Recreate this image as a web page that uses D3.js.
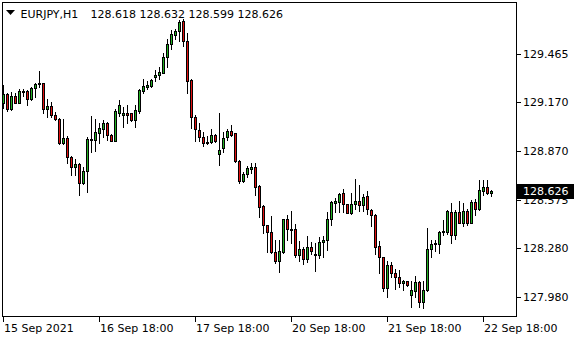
<!DOCTYPE html>
<html><head><meta charset="utf-8">
<script src="https://cdn.jsdelivr.net/npm/d3@7"></script>
<style>html,body{margin:0;padding:0;background:#fff;}svg{display:block;}</style>
</head><body>
<script>
const symbolTitle = "EURJPY,H1";
const open = [
129.167,129.219,129.127,129.208,129.167,129.231,129.237,129.188,129.255,129.280,
129.285,129.131,129.147,129.094,129.066,128.923,128.952,128.834,128.773,128.791,
128.675,128.748,128.938,128.938,128.984,129.008,129.045,128.968,128.935,129.106,
129.090,129.103,129.103,129.060,129.118,129.241,129.265,129.269,129.323,129.335,
129.351,129.445,129.526,129.583,129.604,129.669,129.543,129.306,129.082,129.000,
128.956,128.919,128.925,128.968,128.852,128.892,128.956,128.996,128.980,128.811,
128.691,128.730,128.764,128.773,128.658,128.536,128.420,128.380,128.255,128.197,
128.257,128.455,128.395,128.394,128.238,128.272,128.214,128.284,128.243,128.238,
128.314,128.326,128.455,128.552,128.560,128.614,128.548,128.495,128.546,128.567,
128.544,128.597,128.511,128.479,128.291,128.222,128.038,128.178,128.128,128.104,
128.067,128.076,127.990,128.018,128.071,127.951,128.024,128.271,128.304,128.304,
128.377,128.380,128.499,128.357,128.499,128.434,128.507,128.434,128.560,128.519,
128.629,128.650,128.618];
const high = [
129.276,129.225,129.231,129.225,129.249,129.253,129.245,129.261,129.286,129.361,
129.288,129.188,129.172,129.110,129.074,129.070,128.964,128.842,128.825,128.797,
128.776,128.956,129.086,129.066,129.041,129.062,129.049,128.976,129.127,129.184,
129.143,129.151,129.106,129.155,129.249,129.310,129.300,129.314,129.367,129.387,
129.473,129.559,129.612,129.620,129.673,129.677,129.592,129.312,129.092,129.043,
128.988,128.964,129.005,128.976,129.106,128.990,129.005,129.031,128.982,128.817,
128.744,128.780,128.797,128.797,128.664,128.542,128.423,128.473,128.328,128.328,
128.457,128.481,128.505,128.426,128.324,128.287,128.351,128.318,128.308,128.348,
128.354,128.499,128.568,128.585,128.617,128.642,128.551,128.615,128.701,128.662,
128.607,128.625,128.518,128.487,128.324,128.226,128.202,128.194,128.151,128.145,
128.081,128.078,128.075,128.106,128.075,128.079,128.401,128.326,128.328,128.383,
128.450,128.511,128.556,128.511,128.568,128.556,128.515,128.573,128.581,128.695,
128.695,128.695,128.632];
const low = [
129.135,129.118,129.123,129.164,129.165,129.208,129.155,129.184,129.202,129.261,
129.106,129.082,129.082,129.062,128.915,128.915,128.797,128.724,128.724,128.601,
128.670,128.622,128.866,128.870,128.919,128.960,128.939,128.933,128.931,129.086,
129.021,129.041,129.057,129.017,129.103,129.225,129.251,129.261,129.302,129.314,
129.347,129.387,129.497,129.555,129.543,129.514,129.225,129.010,128.933,128.935,
128.905,128.917,128.919,128.929,128.787,128.868,128.939,128.964,128.808,128.675,
128.683,128.715,128.740,128.606,128.467,128.369,128.258,128.247,128.189,128.130,
128.247,128.328,128.308,128.226,128.200,128.181,128.191,128.243,128.139,128.221,
128.222,128.265,128.423,128.502,128.502,128.499,128.493,128.487,128.518,128.505,
128.505,128.485,128.412,128.243,128.128,128.016,127.982,128.100,128.027,128.039,
128.023,128.050,127.920,127.982,127.920,127.914,128.019,128.222,128.261,128.249,
128.359,128.365,128.308,128.336,128.430,128.414,128.418,128.432,128.479,128.511,
128.601,128.609,128.599];
const close = [
129.219,129.127,129.208,129.167,129.237,129.241,129.188,129.255,129.280,129.285,
129.131,129.147,129.094,129.066,128.923,128.952,128.834,128.773,128.791,128.675,
128.752,128.944,128.945,128.990,129.013,129.045,128.968,128.935,129.118,129.155,
129.103,129.090,129.060,129.123,129.245,129.269,129.274,129.306,129.335,129.355,
129.445,129.526,129.587,129.604,129.661,129.543,129.302,129.078,129.005,128.956,
128.919,128.925,128.968,128.935,128.878,128.950,128.993,128.972,128.809,128.687,
128.730,128.768,128.773,128.654,128.532,128.422,128.380,128.255,128.197,128.259,
128.455,128.394,128.387,128.238,128.272,128.214,128.284,128.263,128.235,128.314,
128.328,128.455,128.560,128.568,128.609,128.546,128.495,128.546,128.567,128.544,
128.591,128.516,128.479,128.287,128.222,128.038,128.178,128.128,128.104,128.067,
128.076,128.055,128.023,128.071,127.951,128.023,128.272,128.304,128.312,128.377,
128.385,128.507,128.357,128.499,128.434,128.504,128.434,128.560,128.519,128.634,
128.650,128.617,128.626];
const priceTicks = [129.465, 129.170, 128.870, 128.575, 128.280, 127.980];
const priceTickLabels = ["129.465","129.170","128.870","128.575","128.280","127.980"];
const timeTickIndex = [0, 24, 48, 72, 96, 120];
const timeTickLabels = ["15 Sep 2021","16 Sep 18:00","17 Sep 18:00","20 Sep 18:00","21 Sep 18:00","22 Sep 18:00"];

const W = 580, H = 340;
const FONT = "DejaVu Sans, sans-serif";
const GREEN = "#22b022", RED = "#e01010";
const n = close.length;

const svg = d3.select("body").append("svg").attr("width", W).attr("height", H)
  .attr("shape-rendering", "crispEdges");

const x = d3.scaleLinear().domain([0, n - 1]).range([3, 3 + 4 * (n - 1)]);
const y = d3.scaleLinear().domain([127.98, 129.465]).range([297, 54]);

// frame
const L = 2.5, R = 516.5, T = 2.5, B = 316.5;
svg.append("path").attr("d", `M${L},${T}H${R}V${B}H${L}Z`)
  .attr("fill", "none").attr("stroke", "#000").attr("stroke-width", 1);

// candles
const data = d3.range(n).map(i => ({i, o: open[i], h: high[i], l: low[i], c: close[i]}));
const g = svg.append("g");
data.forEach(d => {
  const c = Math.round(x(d.i));
  const yh = Math.round(y(d.h)), yl = Math.round(y(d.l));
  const yo = y(d.o), yc = y(d.c);
  g.append("line").attr("x1", c + 0.5).attr("x2", c + 0.5)
    .attr("y1", yh).attr("y2", yl + 1).attr("stroke", "#000").attr("stroke-width", 1);
  const t = Math.round(Math.min(yo, yc)), b = Math.round(Math.max(yo, yc));
  if (b - t < 1) {
    g.append("line").attr("x1", c - 1).attr("x2", c + 2)
      .attr("y1", t + 0.5).attr("y2", t + 0.5).attr("stroke", "#000").attr("stroke-width", 1);
  } else {
    g.append("rect").attr("x", c - 0.5).attr("y", t + 0.5)
      .attr("width", 2).attr("height", b - t)
      .attr("fill", d.c >= d.o ? GREEN : RED)
      .attr("stroke", "#000").attr("stroke-width", 1);
  }
});

// price axis (right)
const pa = svg.append("g");
priceTicks.forEach((p, k) => {
  const yy = Math.round(y(p)) + 0.5;
  pa.append("line").attr("x1", R).attr("x2", R + 4).attr("y1", yy).attr("y2", yy)
    .attr("stroke", "#000");
  pa.append("text").attr("x", 523).attr("y", yy).attr("dy", "0.36em")
    .attr("font-family", FONT).attr("font-size", 11).attr("fill", "#000")
    .text(priceTickLabels[k]);
});

// current price box
const lastC = close[n - 1];
const ly = Math.round(y(lastC));
svg.append("rect").attr("x", 517).attr("y", ly - 7).attr("width", 57).attr("height", 15).attr("fill", "#000");
svg.append("text").attr("x", 523).attr("y", ly + 0.5).attr("dy", "0.36em")
  .attr("font-family", FONT).attr("font-size", 11).attr("fill", "#fff")
  .text(d3.format(".3f")(lastC));

// time axis (bottom)
const ta = svg.append("g");
timeTickIndex.forEach((idx, k) => {
  const xx = Math.round(x(idx)) + 0.5;
  ta.append("line").attr("x1", xx).attr("x2", xx).attr("y1", B).attr("y2", B + 5).attr("stroke", "#000");
  ta.append("text").attr("x", xx + 0.5).attr("y", 332)
    .attr("font-family", FONT).attr("font-size", 11).attr("fill", "#000")
    .text(timeTickLabels[k]);
});

// header
svg.append("path").attr("d", "M6,10L15,10L10.5,15Z").attr("fill", "#000").attr("shape-rendering", "auto");
svg.append("text").attr("x", 20.5).attr("y", 17.5)
  .attr("font-family", FONT).attr("font-size", 11).attr("fill", "#000").text(symbolTitle);
const last = n - 1;
svg.append("text").attr("x", 90.5).attr("y", 17.5)
  .attr("font-family", FONT).attr("font-size", 11).attr("fill", "#000")
  .text([open[last], high[last], low[last], close[last]].map(d3.format(".3f")).join(" "));
</script>
</body></html>
